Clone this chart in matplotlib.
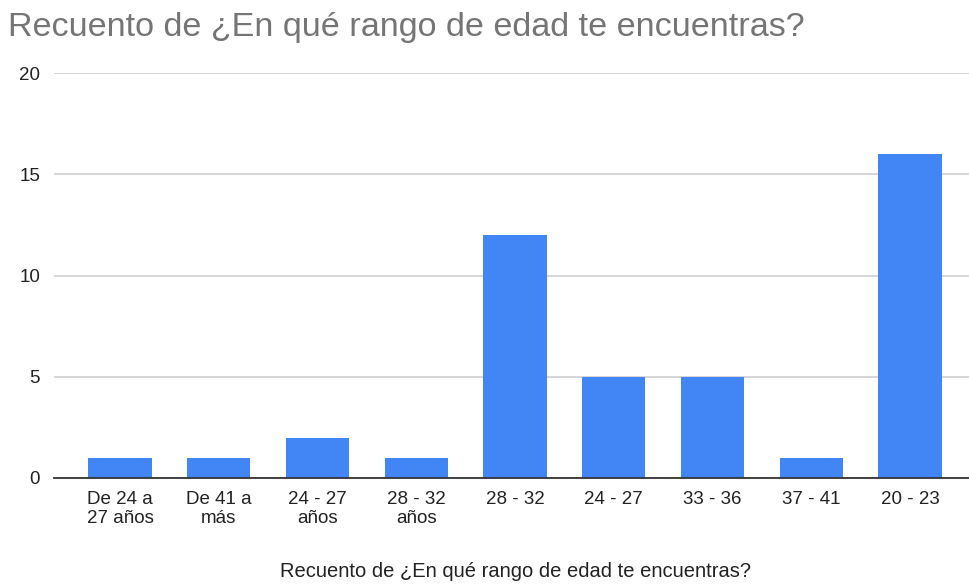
import matplotlib.pyplot as plt
import numpy as np

categories = ["De 24 a\n27 años", "De 41 a\nmás", "24 - 27\naños", "28 - 32\naños",
              "28 - 32", "24 - 27", "33 - 36", "37 - 41", "20 - 23"]
counts = [1, 1, 2, 1, 12, 5, 5, 1, 16]
yticks = [0, 5, 10, 15, 20]

title = "Recuento de ¿En qué rango de edad te encuentras?"
xlabel = "Recuento de ¿En qué rango de edad te encuentras?"

plt.rcParams['font.family'] = ['Liberation Sans', 'DejaVu Sans']

W, H = 969, 586
fig = plt.figure(figsize=(W / 100, H / 100), dpi=100)
# axes box in pixels: left 54, right 969, top y=73 (value 20), bottom y=478 (value 0)
ax = fig.add_axes([54 / W, 1 - 478 / H, (969 - 54) / W, (478 - 73) / H])

x = np.arange(len(categories))
ax.bar(x, counts, width=0.64, color="#4285f4", zorder=3)

ax.set_xlim(-0.668, 8.597)
ax.set_ylim(0, 20)
ax.set_yticks(yticks)
ax.set_xticks(x)
ax.set_xticklabels(categories, fontsize=13.5, color="#222222", linespacing=1.2)
ax.tick_params(axis="y", labelsize=13.5, colors="#222222", length=0, pad=10)
ax.tick_params(axis="x", length=0, pad=9)

ax.grid(axis="y", color="#cccccc", linewidth=1.1, zorder=0)
for s in ["top", "right", "left"]:
    ax.spines[s].set_visible(False)
ax.spines["bottom"].set_color("#333333")
ax.spines["bottom"].set_linewidth(1.3)
ax.spines["bottom"].set_zorder(4)

fig.text(8 / W, 1 - 36 / H, title, fontsize=24.6, color="#757575", ha="left", va="baseline")
fig.text(516 / W, 1 - 577 / H, xlabel, fontsize=14.5, color="#222222", ha="center", va="baseline")

fig.savefig("out.png", dpi=100)
